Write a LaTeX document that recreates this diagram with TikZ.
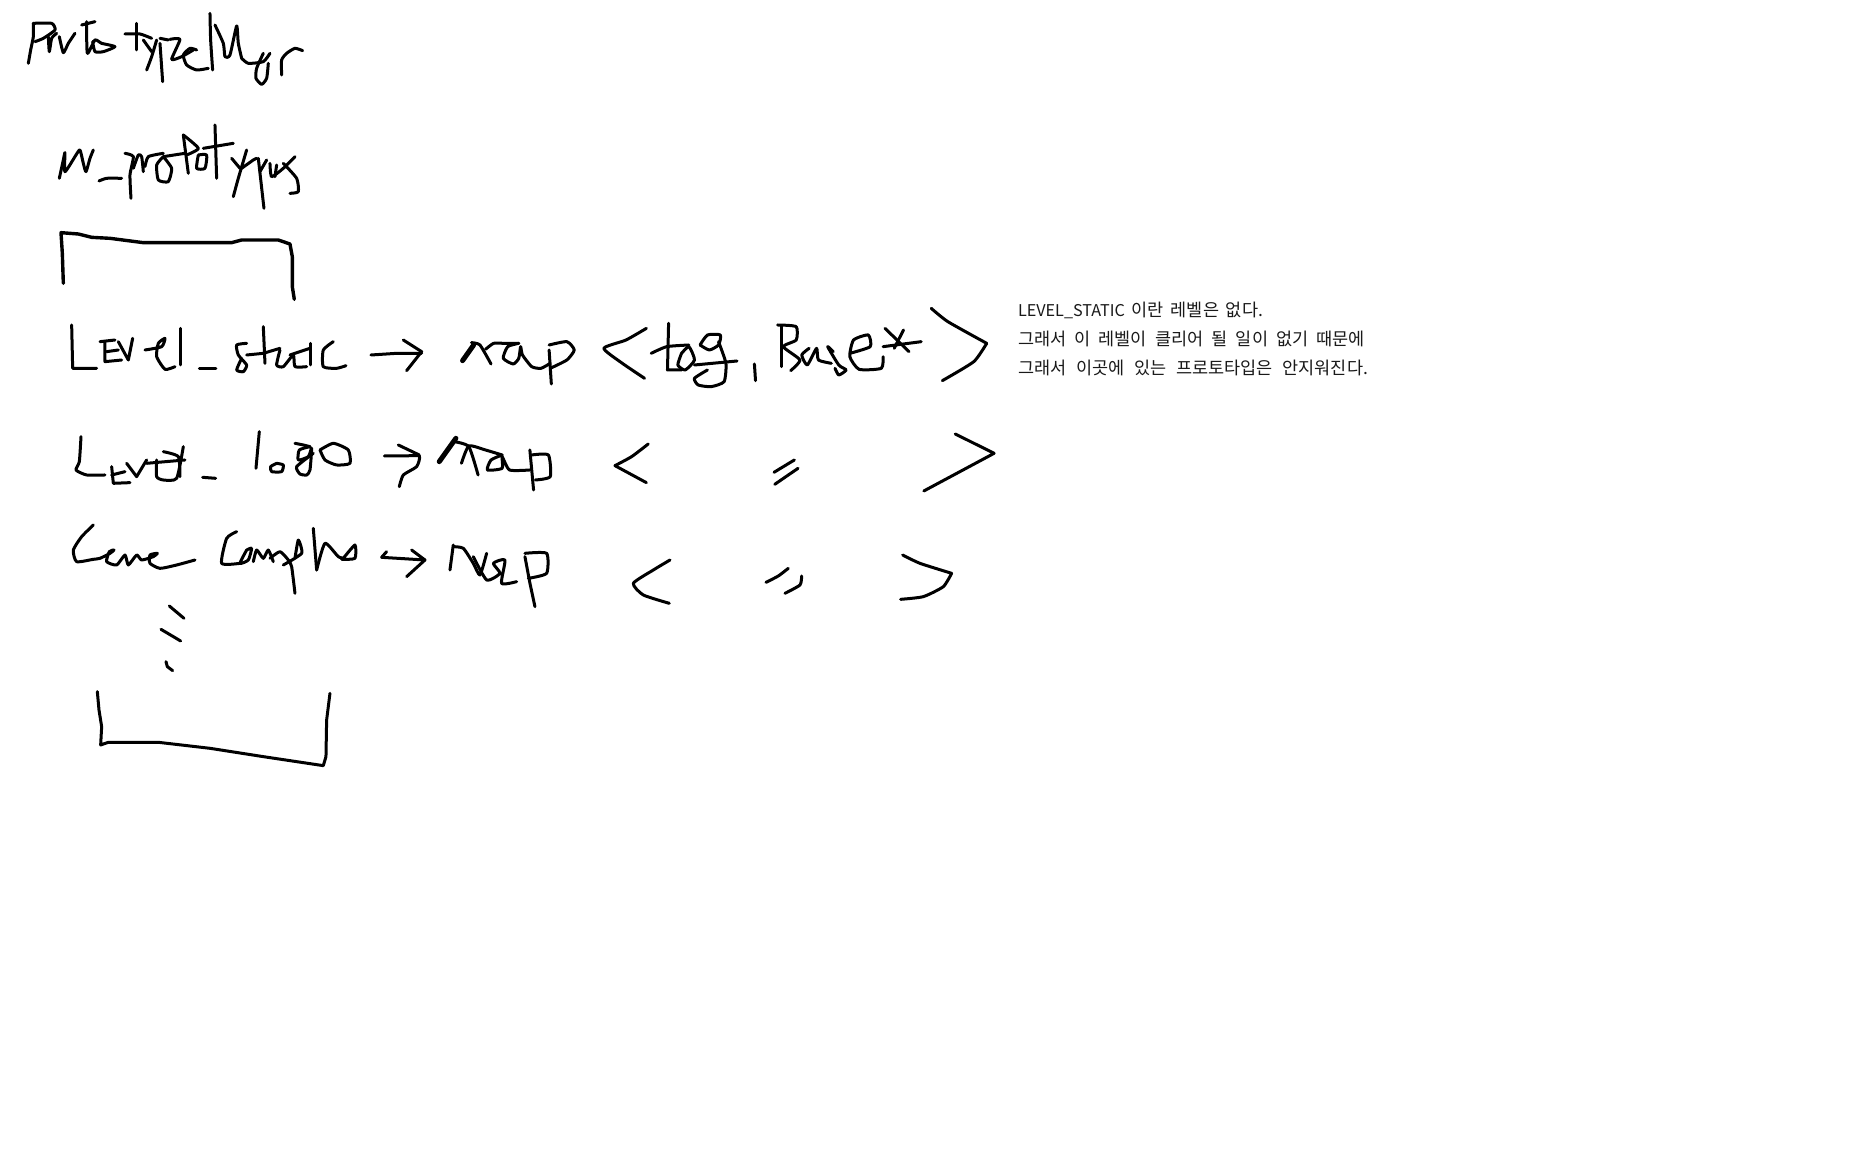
\documentclass[tikz,border=0pt]{standalone}
\usepackage{fontspec}
\newfontfamily\krfont{Noto Sans CJK KR}
\newcommand{\ink}[1]{\draw plot[smooth,tension=0.35] coordinates {#1};}
\tikzset{
  pen/.style={line width=3pt,black,line cap=round,line join=round},
  note/.style={anchor=base west,inner sep=0pt,outer sep=0pt,text=black!90,font=\krfont\fontsize{17.5}{20}\selectfont},
  zoomA/.style={shift={(0,0)},x=0.3333pt,y=-0.3333pt,pen},
  zoomB/.style={shift={(50,300)},x=0.3333pt,y=-0.3333pt,pen},
  zoomC/.style={shift={(430,290)},x=0.3699pt,y=-0.3333pt,pen},
  zoomD/.style={shift={(50,500)},x=0.3333pt,y=-0.3333pt,pen},
  zoomE/.style={shift={(530,520)},x=0.3333pt,y=-0.3333pt,pen},
  zoomF/.style={shift={(50,220)},x=0.3333pt,y=-0.3333pt,pen}
}
\begin{document}
\begin{tikzpicture}[x=1pt,y=-1pt]
\useasboundingbox (0,0) rectangle (1856,1150);
\fill[white] (0,0) rectangle (1856,1150);
% title and member name
\begin{scope}[zoomA]
\ink{(85,190)(92,150)(100,110)(100,70)}
\ink{(100,70)(155,70)(165,90)(130,115)(105,125)}
\ink{(145,110)(148,155)(155,115)(170,100)}
\ink{(178,110)(190,158)(205,130)(225,100)}
\ink{(245,75)(285,65)}
\ink{(260,65)(262,160)(285,120)(305,130)(345,140)(310,155)(285,155)(278,125)}
\ink{(375,102)(420,102)(455,115)}
\ink{(410,70)(410,150)}
\ink{(430,120)(455,155)}
\ink{(470,120)(455,170)(440,210)}
\ink{(480,130)(488,245)}
\ink{(480,115)(505,120)}
\ink{(510,118)(540,118)(515,178)(545,170)(580,150)}
\ink{(590,150)(570,145)(550,165)(560,195)(590,210)(625,205)}
\ink{(630,40)(632,120)(638,210)}
\ink{(645,75)(670,130)(675,170)(690,165)(710,78)(715,130)(725,175)}
\ink{(725,175)(745,190)(790,185)(810,160)}
\ink{(790,160)(770,205)(768,235)(785,253)(800,235)(805,190)}
\ink{(845,225)(845,180)(860,160)(885,145)(908,152)}
\ink{(178,535)(190,480)(195,458)(195,515)(228,465)(240,450)(250,490)(258,515)(270,475)(280,450)}
\ink{(297,543)(320,535)(365,535)}
\ink{(375,460)(400,470)(390,525)(393,595)}
\ink{(400,505)(415,465)(425,470)(430,515)}
\ink{(435,500)(445,470)(490,460)}
\ink{(490,470)(470,495)(475,540)(505,545)(515,505)(490,470)}
\ink{(490,470)(555,460)}
\ink{(550,405)(565,520)}
\ink{(550,405)(595,445)(560,465)}
\ink{(595,465)(590,505)(615,505)(620,465)(595,465)}
\ink{(645,375)(650,535)}
\ink{(610,445)(700,430)}
\ink{(695,475)(720,505)}
\ink{(740,450)(715,535)(700,590)}
\ink{(775,475)(792,625)}
\ink{(725,505)(760,480)(770,475)}
\ink{(780,515)(800,480)}
\ink{(810,490)(815,530)(850,505)(885,470)}
\ink{(825,530)(830,495)}
\ink{(850,490)(890,535)(895,575)(870,580)}
\end{scope}
% top bracket
\begin{scope}[zoomF,line width=3.4pt]
\draw (40,190) -- (37,100) -- (33,38) -- (85,42) -- (125,52) -- (180,55) -- (280,68) -- (545,68) -- (575,60) -- (685,60) -- (720,72) -- (727,110) -- (727,200) -- (733,238);
\end{scope}
% Level static and Level logo
\begin{scope}[zoomB]
\draw (65,75) -- (68,205) -- (140,205);
\draw (150,125) -- (195,120);
\draw (165,125) -- (165,185) -- (215,180);
\draw (170,155) -- (205,150);
\draw (205,125) -- (235,180) -- (248,115);
\ink{(285,150)(335,140)(345,115)(325,130)(320,170)(345,208)(375,200)}
\draw (393,85) -- (393,195);
\draw (448,207) -- (498,207);
\ink{(590,130)(560,135)(565,165)(590,195)(580,215)(560,210)(575,175)}
\draw (640,80) -- (645,190);
\draw (590,165) -- (640,160) -- (690,145);
\ink{(690,150)(680,195)(700,200)(730,165)(735,200)(770,200)}
\draw (720,165) -- (780,145);
\draw (783,130) -- (783,195);
\ink{(850,125)(820,150)(820,200)(860,205)(888,197)}
\draw (963,165) -- (1040,160) -- (1115,160);
\draw (1060,120) -- (1115,155) -- (1070,212);
\ink{(93,410)(88,485)(78,510)(110,525)(165,525)}
\draw (185,500) -- (190,550) -- (240,548);
\draw (185,525) -- (225,515);
\draw (230,490) -- (260,530) -- (290,480);
\draw (290,490) -- (405,480);
\ink{(320,480)(320,530)(340,540)(380,535)(400,440)}
\ink{(340,455)(385,470)(390,530)}
\draw (458,532) -- (497,535);
\draw (628,395) -- (618,505);
\ink{(680,490)(662,500)(665,515)(695,515)(700,495)(680,490)}
\ink{(735,430)(760,435)(780,440)}
\ink{(780,440)(748,450)(745,480)(775,470)(785,445)(780,510)(770,525)(750,522)(740,500)(790,460)}
\ink{(810,450)(850,430)(895,450)(900,490)(860,495)(825,480)(810,450)}
\ink{(1003,468)(1060,468)(1108,468)(1100,500)(1060,525)(1048,560)}
\draw (1045,435) -- (1108,465);
\end{scope}
% map lines 1 and 2
\begin{scope}[zoomC]
\draw[line width=5pt] (88,212) -- (118,165);
\ink{(112,158)(135,165)(165,222)}
\ink{(150,178)(172,160)(200,160)(240,160)}
\ink{(240,160)(210,170)(198,205)(225,222)(240,205)(245,170)(250,195)(275,230)(300,235)(325,220)}
\draw (322,180) -- (328,282);
\ink{(322,165)(370,155)(390,180)(370,210)(325,235)}
\ink{(585,115)(530,150)(470,175)(520,220)(580,265)}
\draw (645,100) -- (642,240) -- (680,240);
\ink{(598,190)(640,170)(700,165)}
\ink{(680,190)(670,225)(690,240)(715,210)(700,170)(680,190)}
\ink{(730,165)(750,135)(785,135)(780,165)(755,180)(730,165)}
\ink{(780,155)(800,220)(795,275)(760,290)(725,285)(715,265)(750,240)}
\draw (715,225) -- (830,213);
\draw (877,222) -- (880,272);
\draw (950,108) -- (950,230);
\ink{(940,105)(990,110)(990,150)(955,170)(1000,210)(975,242)}
\ink{(1025,175)(1005,195)(1020,225)(1045,175)(1050,210)(1085,220)}
\ink{(1090,185)(1075,170)(1105,225)(1125,240)(1105,255)(1095,235)}
\ink{(1135,190)(1190,170)(1185,135)(1145,150)(1135,200)(1160,238)(1220,235)(1225,200)}
\draw (1230,115) -- (1295,185);
\draw (1255,175) -- (1280,120);
\draw (1225,170) -- (1328,155);
\ink{(1355,55)(1400,95)(1505,160)}
\ink{(1505,160)(1470,215)(1385,272)}
\draw[line width=5pt] (25,515) -- (70,445);
\ink{(65,455)(105,470)(130,555)}
\ink{(85,520)(105,468)(150,480)(195,495)}
\ink{(195,495)(165,510)(155,540)(195,535)(195,500)(215,540)(270,540)}
\draw (270,480) -- (280,600);
\ink{(275,495)(320,495)(325,560)(285,570)}
\ink{(590,462)(545,500)(500,527)}
\draw (500,527) -- (585,578);
\draw (930,547) -- (985,510);
\draw (932,583) -- (995,535);
\draw (1420,432) -- (1525,490) -- (1335,603);
\end{scope}
% Level Compline, dots and bottom bracket
\begin{scope}[zoomD]
\ink{(130,75)(95,110)(70,150)(80,185)(130,178)(150,175)(180,160)(192,150)(178,155)(170,185)(200,195)(225,165)(235,195)(260,165)(275,180)(310,170)(322,160)(300,165)(300,190)(330,205)(380,195)(435,180)}
\ink{(560,95)(530,115)(515,190)(570,190)}
\ink{(590,150)(570,190)(595,180)(605,145)(590,150)}
\ink{(610,185)(620,150)(640,175)(655,150)(670,185)}
\ink{(660,175)(690,155)(715,180)(725,200)(735,280)}
\ink{(700,195)(755,160)(745,120)(735,175)}
\draw (790,85) -- (800,210);
\ink{(800,210)(825,130)(865,170)(885,175)}
\ink{(880,175)(915,135)(915,175)(875,178)}
\draw (1010,155) -- (995,172) -- (1125,180) -- (1070,230);
\draw (1085,150) -- (1125,180);
\draw (1210,135) -- (1200,210);
\ink{(1210,140)(1240,145)(1270,190)(1290,225)(1310,160)}
\ink{(1270,170)(1310,240)(1350,220)(1330,190)(1365,180)(1355,250)(1400,245)}
\draw (1425,170) -- (1440,250) -- (1455,320);
\ink{(1425,160)(1490,160)(1490,220)(1435,235)}
\draw (358,318) -- (402,355);
\draw (333,388) -- (392,423);
\draw (348,485) -- (352,500) -- (368,512);
\draw (142,575) -- (147,630) -- (155,680) -- (152,735) -- (175,727) -- (325,727) -- (480,745) -- (640,770) -- (820,797) -- (828,770) -- (830,660) -- (840,580);
\end{scope}
% brackets of line 3
\begin{scope}[zoomE]
\ink{(420,120)(370,150)(310,190)(340,225)(418,250)}
\ink{(708,187)(745,168)(775,145)}
\ink{(765,220)(810,195)(815,168)}
\ink{(1118,105)(1170,130)(1265,160)}
\ink{(1265,160)(1240,200)(1180,230)(1112,238)}
\end{scope}
% note
\node[note] (noteA) at (1018,317) {\makebox[245pt][s]{{\fontsize{16.2}{20}\selectfont LEVEL\_STATIC} 이란 레벨은 없다.}};
\node[note] (noteB) at (1018,345.5) {\makebox[347pt][s]{그래서 이 레벨이 클리어 될 일이 없기 때문에}};
\node[note] (noteC) at (1018,374) {\makebox[350pt][s]{그래서 이곳에 있는 프로토타입은 안지워진다.}};
\end{tikzpicture}
\end{document}
